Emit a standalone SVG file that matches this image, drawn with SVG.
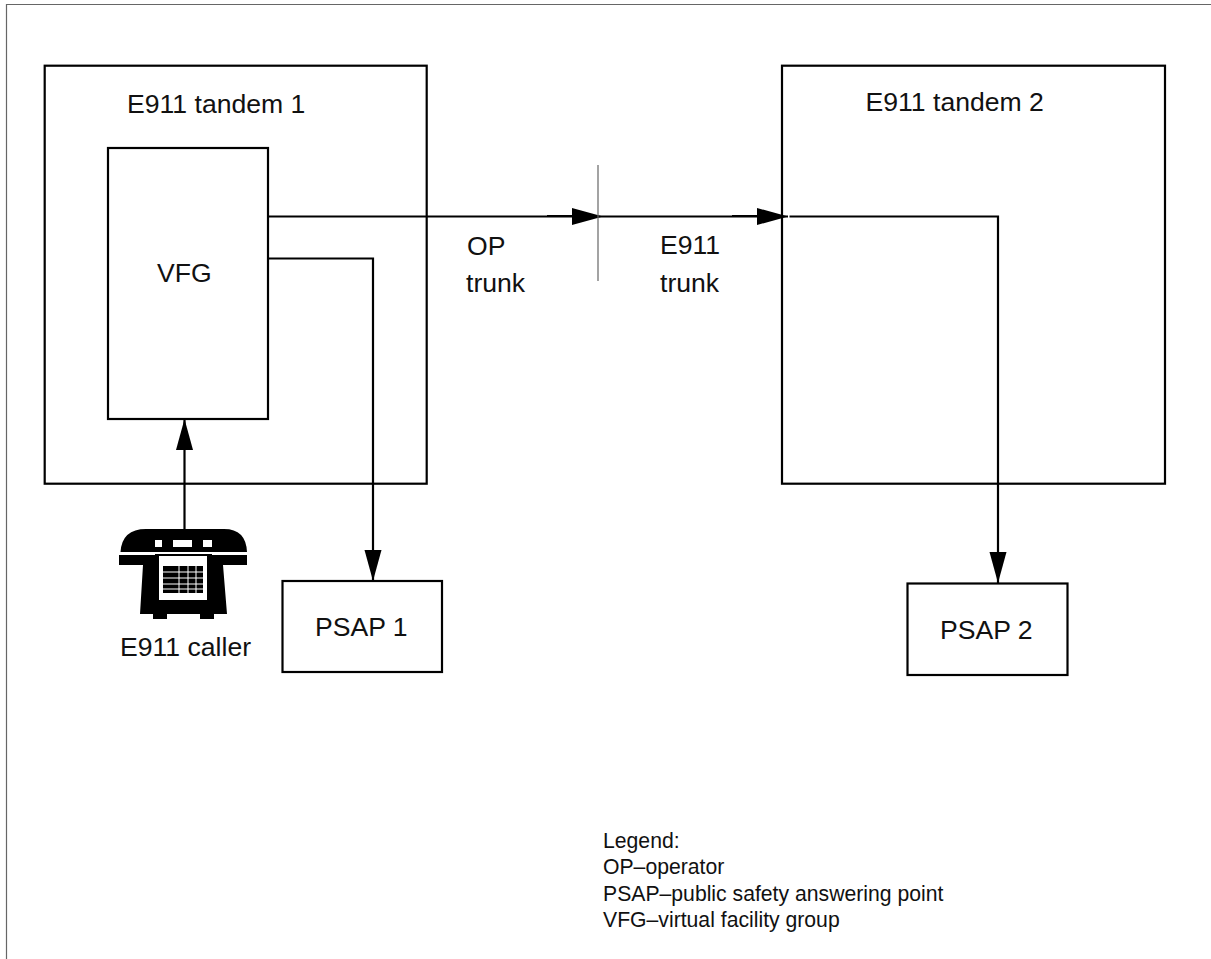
<svg xmlns="http://www.w3.org/2000/svg" width="1211" height="959" viewBox="0 0 1211 959">
<style>
text{font-family:"Liberation Sans",Arial,sans-serif;font-size:26.6px;fill:#111}
.leg{font-size:21.2px}
.box{fill:none;stroke:#000;stroke-width:2.2}
.ln{fill:none;stroke:#000;stroke-width:2.2}
.thin{fill:none;stroke:#666;stroke-width:1.2}
</style>
<defs>
<marker id="arr" markerUnits="userSpaceOnUse" markerWidth="32" markerHeight="18" refX="31" refY="8.5" orient="auto"><path d="M0 0L31 8.5L0 17Z" fill="#000"/></marker>
</defs>
<rect width="1211" height="959" fill="#fff"/>
<path class="thin" d="M6.5 959V4.5H1211"/>
<g id="tandem1"><rect class="box" x="44.7" y="65.7" width="382" height="418"/><text x="127" y="113">E911 tandem 1</text></g>
<g id="vfg"><rect class="box" x="108" y="148" width="160" height="271"/><text x="157" y="282">VFG</text></g>
<g id="tandem2"><rect class="box" x="782" y="65.7" width="383" height="418"/><text x="865.500" y="111">E911 tandem 2</text></g>
<g id="psap1"><rect class="box" x="282.500" y="581" width="159.500" height="91"/><text x="315" y="636">PSAP 1</text></g>
<g id="psap2"><rect class="box" x="907.500" y="583.500" width="160" height="91.500"/><text x="940" y="639">PSAP 2</text></g>
<g id="caller">
<path fill="#000" fill-rule="evenodd" d="M120.500 552Q122 529 146 529H224Q246 529 247 552H212V554H155V552ZM119 555H155V565H119ZM212 555H247V565H212ZM143 565H155V552H212V565H223L227 614H140ZM159 556V600H207V556ZM153 614H167V619H153ZM200 614H214V619H200Z"/>
<path fill="#fff" d="M155 540H162V547H155ZM173 540H192V547H173ZM203 540H212V547H203Z"/>
<path fill="#000" d="M163 566H203V593H163Z"/>
<path stroke="#fff" stroke-width="1" fill="none" d="M163 572H203M163 578H203M163 584H203M163 589H203M179 566V593M188 566V593M196 566V593"/>
<text x="120" y="656">E911 caller</text>
</g>
<g id="connectors">
<path class="ln" d="M184.500 529V419" marker-end="url(#arr)"/>
<path class="ln" d="M268 216.500H603" marker-end="url(#arr)"/>
<path class="ln" d="M603 216.500H788" marker-end="url(#arr)"/>
<path class="ln" d="M547 216H575M732 216H760" stroke-width="3"/>
<path class="ln" d="M789.500 216.500H998V583" marker-end="url(#arr)"/>
<path class="ln" d="M268 258.500H373V581" marker-end="url(#arr)"/>
<path class="thin" d="M598 165V281"/>
</g>
<g id="labels">
<text x="467" y="255">OP</text><text x="466" y="292">trunk</text>
<text x="660" y="254">E911</text><text x="660" y="292">trunk</text>
</g>
<g id="legend">
<text class="leg" x="603" y="848">Legend:</text>
<text class="leg" x="603" y="874">OP–operator</text>
<text class="leg" x="603" y="901">PSAP–public safety answering point</text>
<text class="leg" x="603" y="927">VFG–virtual facility group</text>
</g>
</svg>
